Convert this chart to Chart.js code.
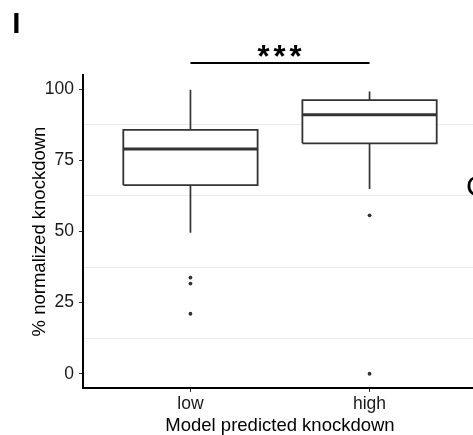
<!DOCTYPE html>
<html>
<head>
<meta charset="utf-8">
<script src="https://cdn.jsdelivr.net/npm/chart.js@4/dist/chart.umd.min.js"></script>
<style>
  html, body { margin: 0; padding: 0; background: #fff; overflow: hidden; }
  #wrap { width: 473px; height: 435px; overflow: hidden; }
</style>
</head>
<body>
<div id="wrap"><canvas id="c" width="480" height="435"></canvas></div>
<script>
// ---- data ----
const categories   = ['low', 'high'];
const q1           = [66.3, 81.0];
const medians      = [79.0, 91.0];
const q3           = [85.7, 96.2];
const whiskerLow   = [49.6, 64.9];
const whiskerHigh  = [99.8, 99.2];
const outliers     = [[33.8, 31.7, 21.1], [55.7, 0]];
const yTickValues  = [0, 25, 50, 75, 100];
const sigFrom      = 'low';
const sigTo        = 'high';
const sigLabel     = '***';
const sigLevel     = 109.2;
const panelLabel   = 'I';
const xTitle       = 'Model predicted knockdown';
const yTitle       = '% normalized knockdown';

// ---- styling ----
const FONT = "'Liberation Sans', Arial, Helvetica, sans-serif";
const INK = '#333333';
const HALF = 0.375;

const gridValues = [];
yTickValues.forEach((v, i) => {
  gridValues.push(v);
  if (i < yTickValues.length - 1) gridValues.push((v + yTickValues[i + 1]) / 2);
});
const isMajor = v => yTickValues.includes(v);

const datasets = [];
const lineBase = { type: 'line', pointRadius: 0, pointHoverRadius: 0, fill: false, tension: 0, borderColor: INK };

// medians (on top)
categories.forEach((c, i) => {
  const x = i + 1;
  datasets.push(Object.assign({}, lineBase, {
    label: 'median ' + c, borderWidth: 3, borderCapStyle: 'butt',
    data: [{ x: x - HALF, y: medians[i] }, { x: x + HALF, y: medians[i] }]
  }));
});
// significance bar
datasets.push(Object.assign({}, lineBase, {
  label: 'sig', borderWidth: 2, borderColor: '#000', clip: false,
  data: [{ x: categories.indexOf(sigFrom) + 1, y: sigLevel }, { x: categories.indexOf(sigTo) + 1, y: sigLevel }]
}));
// outliers
const outlierPts = [];
outliers.forEach((arr, i) => arr.forEach(v => outlierPts.push({ x: i + 1, y: v })));
datasets.push({
  type: 'scatter', label: 'outliers', data: outlierPts,
  pointRadius: 1.9, pointHoverRadius: 1.9, backgroundColor: INK, borderWidth: 0, clip: false
});
// boxes
categories.forEach((c, i) => {
  const x = i + 1;
  datasets.push(Object.assign({}, lineBase, {
    label: 'box ' + c, borderWidth: 1.8, borderJoinStyle: 'miter',
    backgroundColor: '#ffffff', fill: 'shape',
    data: [
      { x: x - HALF, y: q1[i] }, { x: x + HALF, y: q1[i] },
      { x: x + HALF, y: q3[i] }, { x: x - HALF, y: q3[i] },
      { x: x - HALF, y: q1[i] }
    ]
  }));
});
// whiskers
categories.forEach((c, i) => {
  const x = i + 1;
  datasets.push(Object.assign({}, lineBase, {
    label: 'upper whisker ' + c, borderWidth: 1.7,
    data: [{ x: x, y: q3[i] }, { x: x, y: whiskerHigh[i] }]
  }));
  datasets.push(Object.assign({}, lineBase, {
    label: 'lower whisker ' + c, borderWidth: 1.7,
    data: [{ x: x, y: q1[i] }, { x: x, y: whiskerLow[i] }]
  }));
});

function drawInk(ctx, text, font, inkCenterY, inkCenterX) {
  ctx.font = font;
  ctx.textAlign = 'left';
  ctx.textBaseline = 'alphabetic';
  const m = ctx.measureText(text);
  const baseline = inkCenterY + (m.actualBoundingBoxAscent - m.actualBoundingBoxDescent) / 2;
  const x = inkCenterX - (m.actualBoundingBoxRight - m.actualBoundingBoxLeft) / 2;
  ctx.fillText(text, x, baseline);
}

const annotations = {
  id: 'annotations',
  afterDraw(chart) {
    const { ctx, scales: { x, y } } = chart;
    ctx.save();
    ctx.fillStyle = '#000';
    // significance stars
    const xa = x.getPixelForValue(categories.indexOf(sigFrom) + 1);
    const xb = x.getPixelForValue(categories.indexOf(sigTo) + 1);
    const mid = (xa + xb) / 2;
    const yBar = y.getPixelForValue(sigLevel);
    const stars = sigLabel.split('');
    stars.forEach((s, k) => {
      drawInk(ctx, s, 'bold 31px ' + FONT, yBar - 12, mid + (k - (stars.length - 1) / 2) * 16);
    });
    // panel label
    ctx.font = 'bold 29.5px ' + FONT;
    const m = ctx.measureText(panelLabel);
    ctx.textBaseline = 'alphabetic';
    ctx.fillText(panelLabel, 13.3 + m.actualBoundingBoxLeft, 12.7 + m.actualBoundingBoxAscent);
    // edge of the neighbouring panel's label (cut off by the frame)
    ctx.font = '30px ' + FONT;
    const m2 = ctx.measureText('C');
    ctx.fillText('C', 467 + m2.actualBoundingBoxLeft, 176 + m2.actualBoundingBoxAscent);
    ctx.restore();
  }
};

new Chart(document.getElementById('c'), {
  data: { datasets },
  plugins: [annotations],
  options: {
    responsive: false,
    animation: false,
    devicePixelRatio: 1,
    events: [],
    layout: { padding: { top: 75, right: 3, left: 0, bottom: 0 } },
    plugins: { legend: { display: false }, tooltip: { enabled: false } },
    scales: {
      x: {
        type: 'linear', position: 'bottom', min: 0.4, max: 2.6,
        afterBuildTicks: s => { s.ticks = categories.map((c, i) => ({ value: i + 1 })); },
        afterFit: s => { s.height = 47; },
        ticks: {
          callback: (v, idx) => categories[idx],
          autoSkip: false, maxRotation: 0, minRotation: 0, padding: 2,
          color: '#1a1a1a', font: { family: FONT, size: 17.5 }
        },
        grid: { drawOnChartArea: false, drawTicks: true, tickLength: 4, tickColor: INK, tickWidth: 1 },
        border: { display: true, color: '#000', width: 2 },
        title: { display: true, text: xTitle, color: '#000', font: { family: FONT, size: 18.5, lineHeight: 1.0 }, padding: { top: 0, bottom: 0 } }
      },
      y: {
        type: 'linear', position: 'left', min: -5, max: 105,
        afterBuildTicks: s => { s.ticks = gridValues.map(v => ({ value: v })); },
        afterFit: s => { s.width = 83; },
        ticks: {
          callback: v => isMajor(v) ? String(v) : '',
          autoSkip: false, padding: 5,
          color: '#1a1a1a', font: { family: FONT, size: 17.5 }
        },
        grid: {
          color: c => (c.tick && isMajor(c.tick.value)) ? 'rgba(0,0,0,0)' : '#ebebeb',
          lineWidth: 1, drawTicks: true, tickLength: 4,
          tickColor: c => (c.tick && isMajor(c.tick.value)) ? INK : 'rgba(0,0,0,0)',
          tickWidth: 1
        },
        border: { display: true, color: '#000', width: 2 },
        title: { display: true, text: yTitle, color: '#000', font: { family: FONT, size: 18.5 }, padding: { top: 29, bottom: 0 } }
      }
    }
  }
});
</script>
</body>
</html>
